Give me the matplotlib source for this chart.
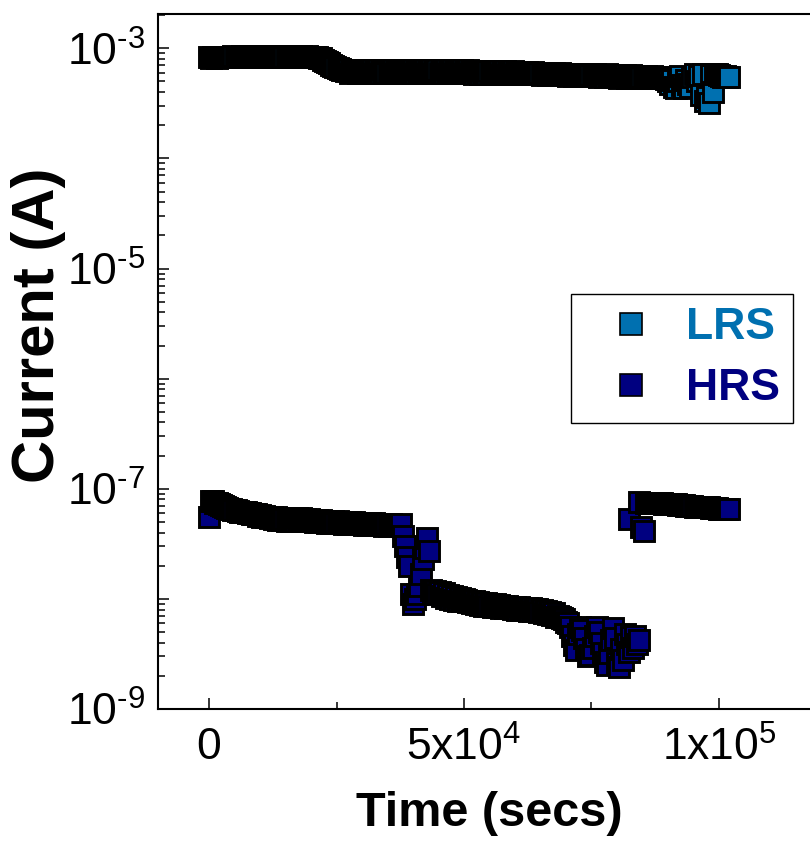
import numpy as np
import matplotlib
matplotlib.use("Agg")
import matplotlib.pyplot as plt
from matplotlib import ticker, font_manager
from matplotlib.lines import Line2D

# logger sampling interval, s
dt = 400

# LRS read current (mA), one value per sample from t = 0
lrs_mA = [
    0.83, 0.82, 0.84, 0.83, 0.82, 0.84, 0.83, 0.84, 0.83, 0.84, 0.84,
    0.84, 0.85, 0.84, 0.83, 0.84, 0.85, 0.85, 0.84, 0.83, 0.84,
    0.85, 0.85, 0.84, 0.84, 0.85, 0.84, 0.83, 0.84, 0.85, 0.85,
    0.84, 0.84, 0.85, 0.85, 0.84, 0.83, 0.84, 0.85, 0.84, 0.84,
    0.85, 0.85, 0.84, 0.84, 0.85, 0.84, 0.84, 0.85, 0.84, 0.84, 0.84,
    0.84, 0.83, 0.82, 0.81, 0.79, 0.77, 0.75, 0.73, 0.71, 0.69, 0.67, 0.66, 0.65, 0.64, 0.63,
    0.62, 0.64, 0.60, 0.62, 0.64, 0.62, 0.60, 0.62, 0.64, 0.62,
    0.60, 0.62, 0.63, 0.64, 0.60, 0.62, 0.63, 0.60, 0.64, 0.62,
    0.60, 0.62, 0.63, 0.64, 0.60, 0.62, 0.62, 0.60, 0.62, 0.64,
    0.62, 0.60, 0.62, 0.63, 0.60, 0.64, 0.62, 0.60, 0.62, 0.63,
    0.60, 0.62, 0.63, 0.60, 0.62, 0.63, 0.60, 0.62, 0.60, 0.63,
    0.60, 0.62,
    0.63, 0.60, 0.62, 0.60, 0.61, 0.63, 0.60, 0.61, 0.63, 0.60,
    0.61, 0.59, 0.62, 0.61, 0.59, 0.62, 0.61, 0.59, 0.62, 0.60,
    0.61, 0.59, 0.60, 0.62, 0.59, 0.60, 0.62, 0.59, 0.60, 0.61,
    0.62, 0.59, 0.60,
    0.61, 0.58, 0.60, 0.59, 0.61, 0.58, 0.59, 0.61, 0.58, 0.59,
    0.60, 0.57, 0.59, 0.60, 0.57, 0.59, 0.58, 0.60, 0.57, 0.58,
    0.60, 0.57, 0.58, 0.59, 0.56, 0.58, 0.59, 0.56, 0.58, 0.59,
    0.56, 0.58,
    0.57, 0.59, 0.56, 0.57, 0.56, 0.58, 0.57, 0.55, 0.57, 0.56,
    0.55, 0.58, 0.56, 0.55, 0.55, 0.57, 0.56, 0.54, 0.56, 0.55,
    0.57, 0.54, 0.55, 0.57, 0.55, 0.54, 0.54, 0.56, 0.55, 0.54,
    0.56, 0.55, 0.54, 0.56, 0.55, 0.54, 0.55, 0.55,
    0.55, 0.54, 0.53, 0.50, 0.47, 0.52, 0.45,
    0.44, 0.50, 0.56, 0.46, 0.44, 0.52, 0.47,
    0.45, 0.55, 0.58, 0.50, 0.56,
    0.38, 0.58, 0.33, 0.36, 0.32, 0.57, 0.40, 0.59,
    0.58, 0.57, 0.56, 0.55, 0.56, 0.55, 0.55,
]

# HRS read current (nA), first run from t = 0
hrs_run1_nA = [
    55, 78, 77, 75, 74, 72, 71, 70, 69, 67, 66,
    65, 64, 64, 63, 62, 62, 61, 61, 60, 60, 59, 59,
    59, 57, 58, 56, 57, 55, 56, 54, 55, 53, 55, 52, 54, 52, 53, 51, 53, 51,
    53, 51, 54, 52, 54, 52, 53, 51, 53, 51, 52, 50, 52, 50, 52, 50,
    51, 49, 51, 49, 51, 49, 51, 49, 50, 48, 50, 48, 50, 48, 50, 48,
    49, 48, 49, 47, 49, 47, 49, 47,
    49, 47, 48, 47, 48, 46, 48, 46, 48, 46, 47, 46, 47,
    48, 37, 30, 24, 20, 11, 9.0, 10, 11, 13, 17, 23, 29, 36, 27, 12, 11.5,
    11.8, 11.0, 11.6, 10.6, 11.2, 10.2, 10.9, 10.0, 10.6, 9.8, 10.3, 9.6, 10.1, 9.5, 9.9,
    9.8, 9.3, 9.6, 9.1, 9.5, 9.0, 9.3, 8.8, 9.2, 8.7,
    9.1, 8.6, 9.0, 8.5, 8.9, 8.4, 8.8, 8.3, 8.7, 8.3,
    8.6, 8.2, 8.5, 8.1, 8.5, 8.0, 8.4, 7.9, 8.3, 7.9, 8.3, 7.8, 8.2, 7.8, 8.1,
    8.1, 7.6, 8.0, 7.5, 7.8, 7.3, 7.6, 7.1, 7.4, 6.9,
    7.0, 6.9, 6.7, 6.5, 6.2,
    6.0, 5.5, 4.6, 3.8, 3.4, 4.8, 5.6, 5.2, 4.4, 3.5, 3.0, 3.1,
    3.6, 4.6, 5.6, 5.0, 4.0, 3.2, 2.7, 2.5, 3.2, 4.2, 5.4, 4.4,
    2.6, 2.4, 3.5, 2.8, 4.8, 3.9, 3.3, 4.5, 3.6, 4.6, 3.9, 4.2,
]

# HRS second run (nA), nan = no reading
hrs_run2_start = 82400
hrs_run2_nA = [
    53, np.nan, np.nan, np.nan, np.nan, 76, 45, 41,
    74, 74, 75, 75, 75, 75, 74, 74,
    74, 73, 73, 73, 72, 72, 72, 72, 71, 71,
    71, 71, 70, 70, 70, 70, 69, 69, 69, 69,
    68, 68, 68, 68, 67, 67, 67, 67, 66, 66,
    66, 66, 65, 65,
]

series_labels = ["LRS", "HRS"]
series_colors = ["#0070b0", "#000080"]

x_ticks = [0, 5e4, 1e5]
x_ticklabels = ["0", r"$5x10^{4}$", r"$1x10^{5}$"]

installed = {f.name for f in font_manager.fontManager.ttflist}
narrow = "Liberation Sans Narrow" if "Liberation Sans Narrow" in installed else "Liberation Sans"

plt.rcParams["font.family"] = ["Liberation Sans", "DejaVu Sans"]
plt.rcParams["mathtext.fontset"] = "custom"
plt.rcParams["mathtext.rm"] = "Liberation Sans"
plt.rcParams["mathtext.default"] = "regular"

t_lrs = np.arange(len(lrs_mA)) * dt
t_hrs1 = np.arange(len(hrs_run1_nA)) * dt
t_hrs2 = hrs_run2_start + np.arange(len(hrs_run2_nA)) * dt
i_lrs = np.array(lrs_mA) * 1e-3
i_hrs1 = np.array(hrs_run1_nA) * 1e-9
i_hrs2 = np.array(hrs_run2_nA) * 1e-9

fig = plt.figure(figsize=(8.1, 8.52), dpi=100)
ax = fig.add_axes([158 / 810, 143 / 852, 663 / 810, 695 / 852])

mk = dict(ls="none", marker="s", ms=14.3, mec="k", mew=2.1)
ax.plot(t_lrs, i_lrs, mfc=series_colors[0], **mk)
ax.plot(t_hrs1, i_hrs1, mfc=series_colors[1], **mk)
ax.plot(t_hrs2, i_hrs2, mfc=series_colors[1], **mk)

ax.set_yscale("log")
ax.set_xlim(-10000, 120000)
ax.set_ylim(1e-9, 2.05e-3)

# x axis
ax.xaxis.set_major_locator(ticker.FixedLocator(x_ticks))
ax.xaxis.set_minor_locator(ticker.FixedLocator([2.5e4, 7.5e4]))
ax.set_xticklabels(x_ticklabels, fontsize=32, fontfamily=narrow)

# y axis: every decade ticked, odd exponents labelled
ax.yaxis.set_major_locator(ticker.LogLocator(base=10, numticks=20))
ax.yaxis.set_minor_locator(ticker.LogLocator(base=10, subs=np.arange(2, 10), numticks=20))
ax.yaxis.set_minor_formatter(ticker.NullFormatter())


def ylab(v, pos):
    e = int(round(np.log10(v)))
    return r"$10^{\text{-}%d}$" % abs(e) if e % 2 else ""


ax.yaxis.set_major_formatter(ticker.FuncFormatter(ylab))

ax.tick_params(which="both", direction="in", width=1.1)
ax.tick_params(which="major", length=8)
ax.tick_params(which="minor", length=5)
ax.tick_params(axis="x", which="major", pad=13)
ax.tick_params(axis="y", which="major", labelsize=32, pad=9)
for s in ax.spines.values():
    s.set_linewidth(1.5)

ax.set_xlabel("Time (secs)", fontsize=35, fontweight="bold", fontfamily=narrow)
ax.xaxis.set_label_coords(0.5, -0.118)
ax.set_ylabel("Current (A)", fontsize=43, fontweight="bold")
ax.yaxis.set_label_coords(-0.139, 0.5525)

handles = [Line2D([], [], ls="none", marker="s", ms=15.5, mfc=c, mec="k", mew=1.2)
           for c in series_colors]
leg = ax.legend(handles, series_labels, loc="upper left",
                bbox_to_anchor=(571 / 810, 1 - 294 / 852), bbox_transform=fig.transFigure,
                prop={"size": 32, "weight": "bold"}, labelcolor=series_colors,
                frameon=True, fancybox=False, edgecolor="k", framealpha=1,
                borderaxespad=0, borderpad=0.3, handlelength=2.1, handletextpad=0.18,
                labelspacing=0.45)
leg.get_frame().set_linewidth(1.0)

fig.savefig("out.png", dpi=100)
